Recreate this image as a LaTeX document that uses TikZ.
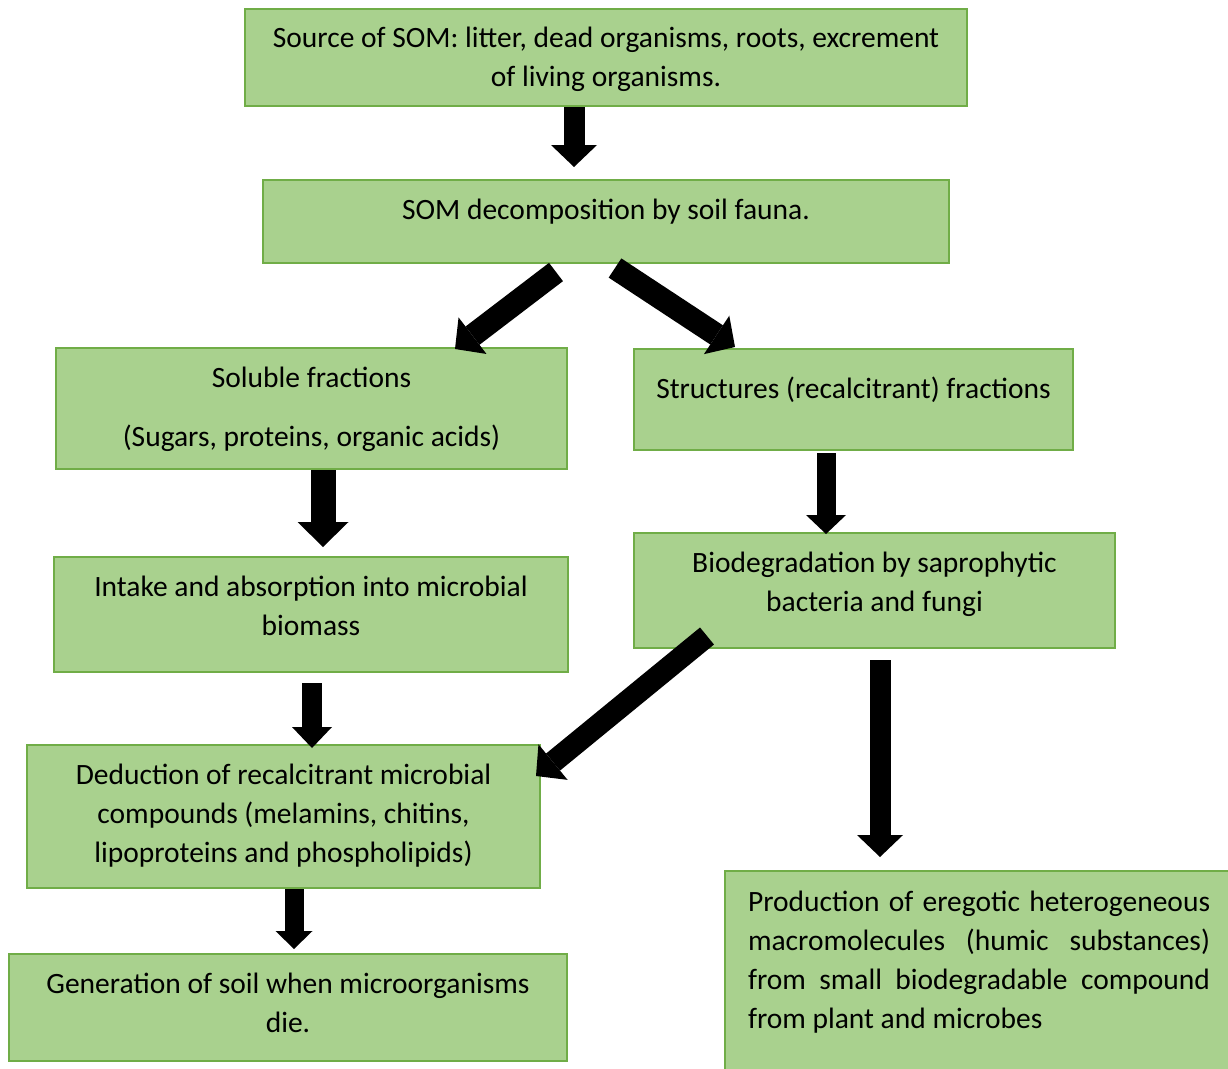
\documentclass[tikz,border=0pt]{standalone}
\usepackage{fontspec}
\setmainfont{Carlito}
\usepackage{tikz}
\usetikzlibrary{calc, positioning, arrows.meta}
\usepackage{xcolor}
\definecolor{boxfill}{HTML}{A9D18E}
\definecolor{boxline}{HTML}{70AD47}

\begin{document}
\begin{tikzpicture}[
			x=1pt, y=-1pt,
			box/.style={
				draw=boxline, fill=boxfill, line width=2pt, inner sep=0pt,
				align=center, font=\fontsize{29.5}{39}\selectfont
			},
			arr/.style={-{Triangle[width=46pt, length=22pt, line width=0pt]}, line width=21pt, color=black},
			]
			\useasboundingbox (0,0) rectangle (1228,1068);
			
			% ── Top ──────────────────────────────────────────────────────────
			\node[box, minimum width=722pt, minimum height=97pt, text depth=2pt] (src) at (606,57.5)
			{Source of SOM: litter, dead organisms, roots, excrement\\of living organisms.};
			
			\node[box, minimum width=686pt, minimum height=83pt, text depth=24pt] (decomp) at (606,221.5)
			{SOM decomposition by soil fauna.};
			
			% ── Left branch ──────────────────────────────────────────────────
			\node[box, minimum width=511pt, minimum height=121pt, text depth=4pt] (sol) at (311.5,408.5)
			{Soluble fractions\\[20pt](Sugars, proteins, organic acids)};
			
			\node[box, minimum width=514pt, minimum height=115pt, text depth=18pt] (intake) at (311,614.5)
			{Intake and absorption into microbial\\biomass};
			
			\node[box, minimum width=513pt, minimum height=143pt, text depth=7pt] (deduc) at (283.5,816.5)
			{Deduction of recalcitrant microbial\\compounds (melamins, chitins,\\lipoproteins and phospholipids)};
			
			\node[box, minimum width=558pt, minimum height=107pt, text depth=10pt] (gen) at (288,1007.5)
			{Generation of soil when microorganisms\\die.};
			
			% ── Right branch ─────────────────────────────────────────────────
			\node[box, minimum width=439pt, minimum height=101pt, text depth=23pt] (struct) at (853.5,399.5)
			{Structures (recalcitrant) fractions};
			
			\node[box, minimum width=481pt, minimum height=115pt, text depth=17pt] (bio) at (874.5,590.5)
			{Biodegradation by saprophytic\\bacteria and fungi};
			
			\node[box, anchor=north west, align=justify, text width=462pt, inner xsep=22pt, inner ysep=20pt,
				minimum width=508pt, text depth=145pt] (prod) at (724,870)
			{Production of eregotic heterogeneous\linebreak macromolecules (humic substances)\linebreak
				from small biodegradable compound\linebreak from plant and microbes};
			
			% ── Arrows ───────────────────────────────────────────────────────
			\coordinate (tA) at (574,167);
			\coordinate (tD) at (323,547);
			\coordinate (tE) at (826,534);
			\coordinate (tF) at (312,748);
			\coordinate (tH) at (880,857);
			\coordinate (tI) at (294,949);
			
			\draw[arr] (src.south -| tA) -- (tA);
			\draw[arr, line width=25pt, -{Triangle[width=51pt, length=25pt, line width=0pt]}] (sol.south -| tD) -- (tD);
			\draw[arr, line width=19pt, -{Triangle[width=40pt, length=19pt, line width=0pt]}, shorten <=2pt] (struct.south -| tE) -- (tE);
			\draw[arr, line width=20pt, -{Triangle[width=40pt, length=21pt, line width=0pt]}, shorten <=10pt] (intake.south -| tF) -- (tF);
			\draw[arr, shorten <=11pt] (bio.south -| tH) -- (tH);
			\draw[arr, line width=19pt, -{Triangle[width=37pt, length=18pt, line width=0pt]}] (deduc.south -| tI) -- (tI);
			
			\coordinate (b0) at (556,272);
			\coordinate (b1) at (455,349);
			\coordinate (c0) at (615,268);
			\coordinate (c1) at (735,347);
			\coordinate (g0) at (707,636);
			\coordinate (g1) at (536,776);
			
			\draw[arr, line width=23pt] (b0) -- (b1);
			\draw[arr, line width=23pt] (c0) -- (c1);
			\draw[arr, line width=22pt] (g0) -- (g1);
			
		\end{tikzpicture}
\end{document}
